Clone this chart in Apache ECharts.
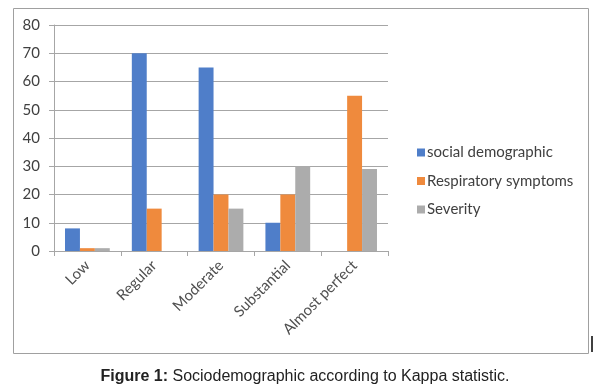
<!DOCTYPE html>
<html>
<head>
<meta charset="utf-8">
<script src="https://cdn.jsdelivr.net/npm/echarts@6/dist/echarts.min.js"></script>
<style>
  html, body { margin: 0; padding: 0; background: #fff; }
  #chart { width: 610px; height: 385px; }
</style>
</head>
<body>
<div id="chart"></div>
<script>
// data
var categories = ['Low', 'Regular', 'Moderate', 'Substantial', 'Almost perfect'];
var socialDemographic = [8, 70, 65, 10, 0];
var respiratorySymptoms = [1, 15, 20, 20, 55];
var severity = [1, 0, 15, 30, 29];
var seriesNames = ['social demographic', 'Respiratory symptoms', 'Severity'];

(function () {
  var dom = document.getElementById('chart');
  var myChart = echarts.init(dom);

  var font = 'Lato, "Open Sans", sans-serif';

  var option = {
    animation: false,
    color: ['#4f7ec9', '#ef8a3d', '#acacac'],
    title: {
      text: '{b|Figure 1:} Sociodemographic according to Kappa statistic.',
      left: 'center',
      top: 364,
      textStyle: {
        fontFamily: '"Liberation Sans", Arial, sans-serif',
        fontSize: 16,
        fontWeight: 'normal',
        color: '#222',
        rich: {
          b: { fontFamily: '"Liberation Sans", Arial, sans-serif', fontSize: 16, fontWeight: 'bold', color: '#222' }
        }
      }
    },
    graphic: [
      {
        // outer chart frame
        type: 'rect',
        shape: { x: 13.5, y: 8.5, width: 575, height: 345 },
        style: { fill: 'none', stroke: '#a0a0a0', lineWidth: 1 }
      },
      {
        type: 'line',
        shape: { x1: 592, y1: 336, x2: 592, y2: 352 },
        style: { stroke: '#000', lineWidth: 1.5 }
      }
    ],
    legend: {
      orient: 'vertical',
      left: 412,
      top: 140,
      itemWidth: 8,
      itemHeight: 8,
      itemGap: 13.5,
      icon: 'rect',
      data: seriesNames,
      textStyle: { fontFamily: font, fontSize: 15, color: '#404040', padding: [0, 0, 0, -3] }
    },
    grid: {
      left: 54,
      right: 222,
      top: 25,
      bottom: 134
    },
    xAxis: {
      type: 'category',
      data: categories,
      axisLine: { lineStyle: { color: '#a6a6a6', width: 1 } },
      axisTick: { show: true, length: 5, lineStyle: { color: '#a6a6a6' } },
      axisLabel: {
        interval: 0,
        rotate: 45,
        margin: 12,
        fontFamily: font,
        fontSize: 15,
        color: '#505050'
      }
    },
    yAxis: {
      type: 'value',
      min: 0,
      max: 80,
      interval: 10,
      axisLine: { show: true, lineStyle: { color: '#a6a6a6', width: 1 } },
      axisTick: { show: true, inside: false, length: 5, lineStyle: { color: '#a6a6a6' } },
      axisLabel: {
        margin: 14,
        fontFamily: font,
        fontSize: 15,
        color: '#404040'
      },
      splitLine: { lineStyle: { color: '#a6a6a6', width: 1 } }
    },
    series: [
      { name: seriesNames[0], type: 'bar', data: socialDemographic, barGap: '0%', barCategoryGap: '33%' },
      { name: seriesNames[1], type: 'bar', data: respiratorySymptoms, barGap: '0%', barCategoryGap: '33%' },
      { name: seriesNames[2], type: 'bar', data: severity, barGap: '0%', barCategoryGap: '33%' }
    ]
  };

  if (option && typeof option === 'object') {
    myChart.setOption(option);
  }
})();
</script>
</body>
</html>
